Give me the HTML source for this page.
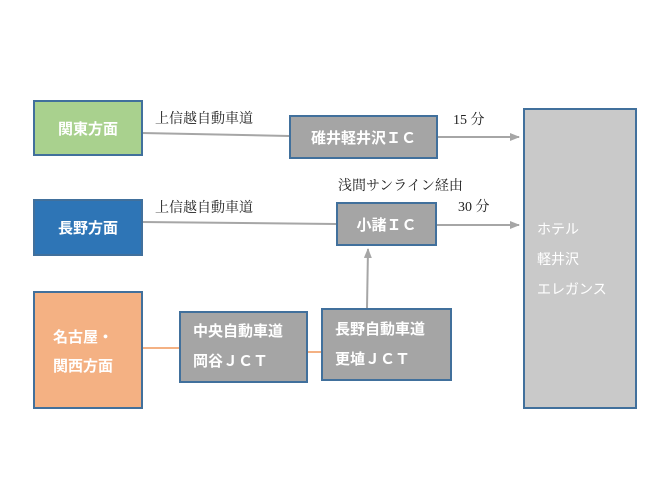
<!DOCTYPE html><html><head><meta charset="utf-8"><style>
body{margin:0;width:672px;height:504px;background:#fff;position:relative;overflow:hidden;font-family:"Liberation Serif","Noto Serif CJK SC",serif}
.b{position:absolute;box-sizing:border-box;border:2px solid #41709c;color:#fff;font-family:"Liberation Sans","Noto Sans CJK JP",sans-serif;font-weight:bold;font-size:15px;display:flex;align-items:center}
.t{position:absolute;font-size:14px;color:#222}
</style></head><body>
<svg width="672" height="504" style="position:absolute;left:0;top:0">
<defs><marker id="a" markerWidth="10" markerHeight="8" refX="9" refY="4" orient="auto" markerUnits="userSpaceOnUse"><path d="M0,0L10,4L0,8z" fill="#a6a6a6"/></marker></defs>
<g stroke="#a6a6a6" stroke-width="2" fill="none">
<line x1="142" y1="133" x2="289" y2="136"/>
<line x1="437" y1="137" x2="519" y2="137" marker-end="url(#a)"/>
<line x1="142" y1="222" x2="336" y2="224"/>
<line x1="436" y1="225" x2="519" y2="225" marker-end="url(#a)"/>
<line x1="367" y1="308" x2="368" y2="249" marker-end="url(#a)"/>
</g>
<g stroke="#f4b183" stroke-width="2"><line x1="142" y1="348" x2="179" y2="348"/><line x1="307" y1="352" x2="321" y2="352"/></g>
</svg>
<div class="b" style="left:33px;top:100px;width:110px;height:56px;background:#a9d18e;justify-content:center">関東方面</div>
<div class="b" style="left:33px;top:199px;width:110px;height:57px;background:#2e75b6;justify-content:center">長野方面</div>
<div class="b" style="left:33px;top:291px;width:110px;height:118px;background:#f4b183;padding-left:18px;line-height:29px;padding-top:4px">名古屋・<br>関西方面</div>
<div class="b" style="left:179px;top:311px;width:129px;height:72px;background:#a5a5a5;padding-left:12px;line-height:30px">中央自動車道<br>岡谷ＪＣＴ</div>
<div class="b" style="left:321px;top:308px;width:131px;height:73px;background:#a5a5a5;padding-left:12px;line-height:30px">長野自動車道<br>更埴ＪＣＴ</div>
<div class="b" style="left:289px;top:115px;width:149px;height:44px;background:#a5a5a5;justify-content:center">碓井軽井沢ＩＣ</div>
<div class="b" style="left:336px;top:202px;width:101px;height:44px;background:#a5a5a5;justify-content:center">小諸ＩＣ</div>
<div class="b" style="left:523px;top:108px;width:114px;height:301px;background:#c9c9c9;padding-left:12px;line-height:30px;align-items:flex-start;padding-top:104px;font-weight:normal;font-size:14px">ホテル<br>軽井沢<br>エレガンス</div>
<div class="t" style="left:155px;top:108px">上信越自動車道</div>
<div class="t" style="left:155px;top:197px">上信越自動車道</div>
<div class="t" style="left:453px;top:109px">15 分</div>
<div class="t" style="left:338px;top:175px">浅間サンライン経由</div>
<div class="t" style="left:458px;top:196px">30 分</div>
</body></html>
